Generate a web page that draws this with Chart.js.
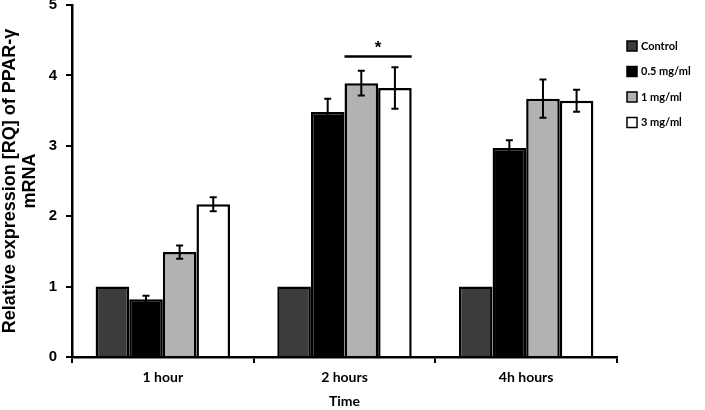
<!DOCTYPE html>
<html>
<head>
    <title>PPAR-gamma relative expression</title>
    <script src="https://cdn.jsdelivr.net/npm/chart.js"></script>
    <style>
        body { margin: 0; background: #fff; }
        #wrap { width: 705px; height: 410px; }
    </style>
</head>
<body>
    <div id="wrap"><canvas id="barChart"></canvas></div>
    <script>
        // values
        const timePoints = ['1 hour', '2 hours', '4h hours'];
        const doseLabels = ['Control', '0.5 mg/ml', '1 mg/ml', '3 mg/ml'];
        const control = [1, 1, 1];
        const dose05 = [0.82, 3.48, 2.97];
        const dose1 = [1.49, 3.89, 3.67];
        const dose3 = [2.17, 3.82, 3.64];
        const err05 = [0.05, 0.19, 0.11];
        const err1 = [0.095, 0.175, 0.27];
        const err3 = [0.10, 0.295, 0.155];
        const yTicks = [0, 1, 2, 3, 4, 5];
        const sigLevel = 4.27;   // height of the "*" bracket at 2 hours

        const fills = ['#3c3c3c', '#000000', '#b2b2b2', '#ffffff'];
        const series = [control, dose05, dose1, dose3];
        const errors = [null, err05, err1, err3];

        // error bars drawn on top of the bars
        const errorBars = {
            id: 'errorBars',
            afterDatasetsDraw(chart) {
                const ctx = chart.ctx;
                const y = chart.scales.y;
                ctx.save();
                ctx.strokeStyle = '#000';
                ctx.lineWidth = 2;
                chart.data.datasets.forEach((ds, i) => {
                    if (!errors[i]) return;
                    chart.getDatasetMeta(i).data.forEach((bar, j) => {
                        const v = ds.data[j], e = errors[i][j];
                        const top = y.getPixelForValue(v + e);
                        const bot = y.getPixelForValue(v - e);
                        ctx.beginPath();
                        ctx.moveTo(bar.x, top); ctx.lineTo(bar.x, bot);
                        ctx.moveTo(bar.x - 3.5, top); ctx.lineTo(bar.x + 3.5, top);
                        ctx.moveTo(bar.x - 3.5, bot); ctx.lineTo(bar.x + 3.5, bot);
                        ctx.stroke();
                    });
                });
                // significance bracket over 1 and 3 mg/ml at 2 hours
                const a = chart.getDatasetMeta(2).data[1];
                const b = chart.getDatasetMeta(3).data[1];
                const x0 = a.x - a.width / 2, x1 = b.x + b.width / 2;
                const ys = y.getPixelForValue(sigLevel);
                ctx.lineWidth = 2.5;
                ctx.beginPath();
                ctx.moveTo(x0, ys); ctx.lineTo(x1, ys);
                ctx.stroke();
                ctx.fillStyle = '#000';
                ctx.font = 'bold 17px "Liberation Sans"';
                ctx.textAlign = 'center';
                ctx.textBaseline = 'middle';
                ctx.fillText('*', (x0 + x1) / 2, ys - 8);
                ctx.restore();
            }
        };

        // legend at the right, drawn from the datasets
        const sideLegend = {
            id: 'sideLegend',
            afterDraw(chart) {
                const ctx = chart.ctx;
                ctx.save();
                ctx.font = 'bold 11px Lato';
                ctx.textBaseline = 'middle';
                ctx.textAlign = 'left';
                chart.data.datasets.forEach((ds, i) => {
                    const cy = 46 + i * 25.5;
                    ctx.fillStyle = ds.backgroundColor;
                    ctx.fillRect(627, cy - 5, 10, 10);
                    ctx.strokeStyle = '#000';
                    ctx.lineWidth = 1.5;
                    ctx.strokeRect(627, cy - 5, 10, 10);
                    ctx.fillStyle = '#000';
                    ctx.fillText(ds.label, 641, cy);
                });
                ctx.restore();
            }
        };

        const ctx = document.getElementById('barChart').getContext('2d');
        new Chart(ctx, {
            type: 'bar',
            data: {
                labels: timePoints,
                datasets: doseLabels.map((lab, i) => ({
                    label: lab,
                    data: series[i],
                    backgroundColor: fills[i],
                    borderColor: '#000',
                    borderWidth: 2.5,
                    categoryPercentage: 0.74,
                    barPercentage: 1.0
                }))
            },
            options: {
                responsive: true,
                maintainAspectRatio: false,
                animation: false,
                layout: { padding: { top: 5, right: 88, left: 0, bottom: 0 } },
                plugins: {
                    legend: { display: false },
                    tooltip: { enabled: false }
                },
                scales: {
                    x: {
                        grid: { display: true, drawOnChartArea: false, color: '#000', lineWidth: 2, tickLength: 6, offset: true },
                        border: { color: '#000', width: 2.5 },
                        ticks: { color: '#000', font: { family: 'Lato', weight: 'bold', size: 14 }, padding: 6 },
                        title: { display: true, text: 'Time', color: '#000', font: { family: 'Lato', weight: 'bold', size: 14 }, padding: { top: 7, bottom: 0 } },
                        afterFit: s => { s.height = 53; }
                    },
                    y: {
                        min: 0,
                        max: 5,
                        afterBuildTicks: s => { s.ticks = yTicks.map(v => ({ value: v })); },
                        grid: { display: true, drawOnChartArea: false, color: '#000', lineWidth: 2, tickLength: 6 },
                        border: { color: '#000', width: 2.5 },
                        ticks: { color: '#000', font: { family: 'Liberation Sans', weight: 'bold', size: 15 }, padding: 9 },
                        title: {
                            display: true,
                            text: ['Relative expression [RQ] of PPAR-γ', 'mRNA'],
                            color: '#000',
                            font: { family: 'Liberation Sans', weight: 'bold', size: 18, lineHeight: 1.1 },
                            padding: { top: 0, bottom: 4 }
                        },
                        afterFit: s => { s.width = 72; s.paddingTop = 0; s.paddingBottom = 0; }
                    }
                }
            },
            plugins: [errorBars, sideLegend]
        });
    </script>
</body>
</html>
